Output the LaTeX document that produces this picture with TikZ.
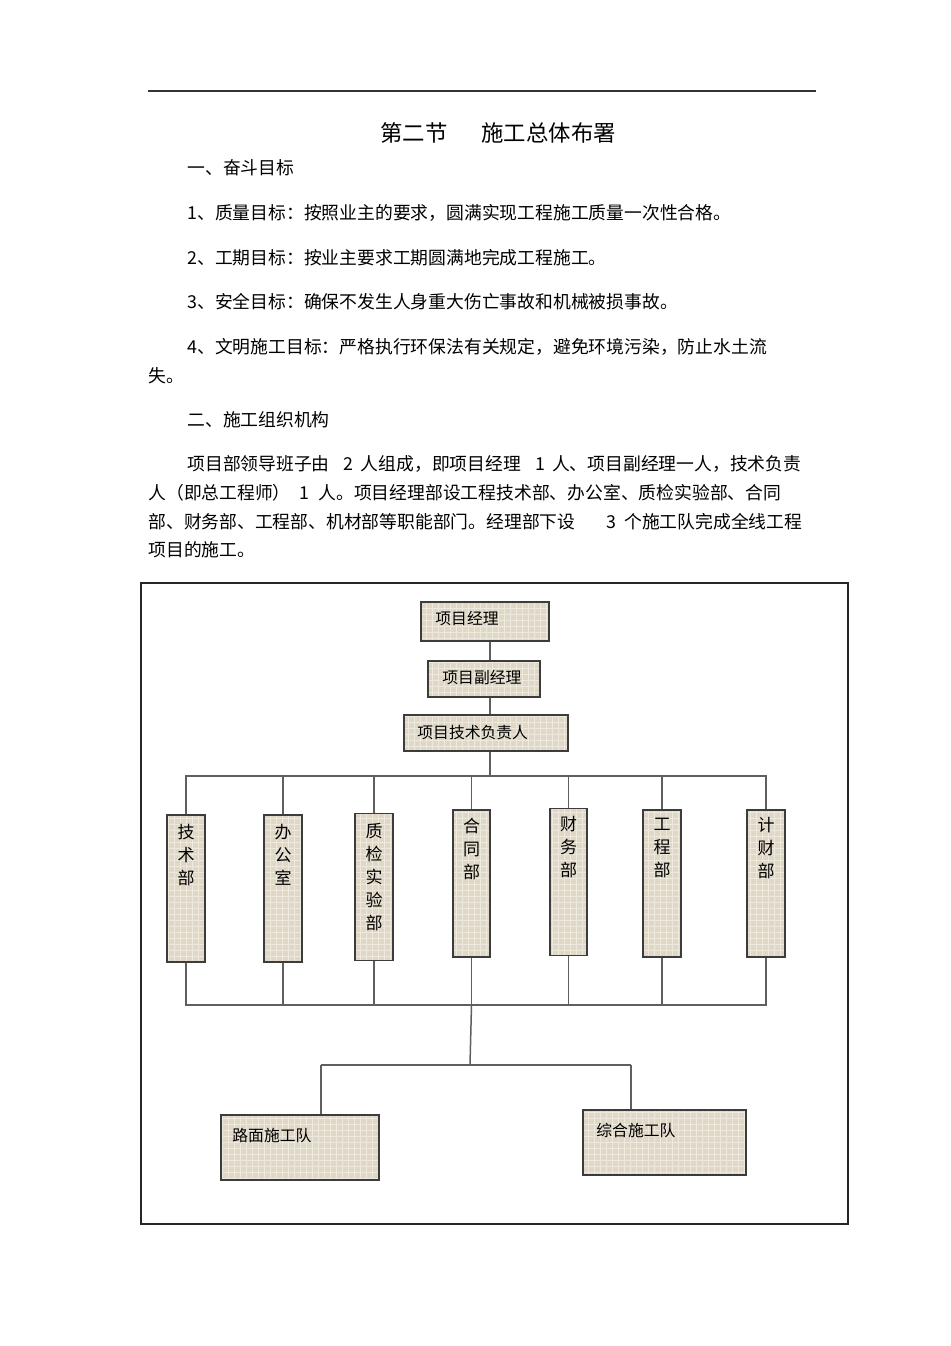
\documentclass[tikz,border=0pt]{standalone}
\usepackage{fontspec}
\setmainfont{Noto Sans CJK SC}
\usetikzlibrary{patterns}
\XeTeXlinebreaklocale "zh"
\XeTeXlinebreakskip=0pt plus 1pt
\definecolor{boxfill}{RGB}{224,215,197}
\definecolor{boxhatch}{RGB}{238,233,222}
\definecolor{boxline}{RGB}{60,60,60}
\definecolor{conn}{RGB}{95,95,95}
\tikzset{
  bodytxt/.style={anchor=base west, inner sep=0pt, font=\fontsize{8.9pt}{10pt}\selectfont},
  titletxt/.style={anchor=base west, inner sep=0pt, font=\fontsize{11.2pt}{12pt}\selectfont},
  orgbox/.style={draw=boxline, line width=0.7pt, preaction={fill=boxfill}, pattern=grid, pattern color=boxhatch, inner sep=0pt},
  deptbox/.style={orgbox, minimum width=19pt, minimum height=73.5pt},
  boxtxt/.style={anchor=west, inner sep=0pt, font=\fontsize{7.9pt}{9pt}\selectfont},
  depttxt/.style={anchor=north, inner sep=0pt, align=center, font=\fontsize{8.5pt}{11.5pt}\selectfont},
  link/.style={draw=conn, line width=0.75pt},
}
\begin{document}
\begin{tikzpicture}[x=0.5pt,y=-0.5pt]
\useasboundingbox[fill=white] (0,0) rectangle (950,1346);
% header rule
\draw[line width=0.6pt, black!80] (148,91) -- (816,91);
% title
\node[titletxt] (title) at (380,141) {第二节\hspace{17pt}施工总体布署};
% body text
\node[bodytxt] (h1) at (187,174) {一、奋斗目标};
\node[bodytxt] (g1) at (187,219) {1、质量目标：按照业主的要求，圆满实现工程施工质量一次性合格。};
\node[bodytxt] (g2) at (187,264) {2、工期目标：按业主要求工期圆满地完成工程施工。};
\node[bodytxt] (g3) at (187,308) {3、安全目标：确保不发生人身重大伤亡事故和机械被损事故。};
\node[bodytxt] (g4) at (187,353) {4、文明施工目标：严格执行环保法有关规定，避免环境污染，防止水土流};
\node[bodytxt] (g4b) at (148,382) {失。};
\node[bodytxt] (h2) at (187,426) {二、施工组织机构};
\node[bodytxt] (p1) at (187,470) {\makebox[307pt][s]{项目部领导班子由\ \ 2 人组成，即项目经理\ \ 1 人、项目副经理一人，技术负责}};
\node[bodytxt] (p2) at (148,499) {\makebox[316.5pt][s]{人（即总工程师）\ 1 人。项目经理部设工程技术部、办公室、质检实验部、合同}};
\node[bodytxt] (p3) at (148,528) {\makebox[327pt][s]{部、财务部、工程部、机材部等职能部门。经理部下设\ \ \ \ 3 个施工队完成全线工程}};
\node[bodytxt] (p4) at (148,556) {项目的施工。};
% frame
\draw[line width=0.6pt, black!85] (141,583) rectangle (848,1224);
% top chain
\node[orgbox, minimum width=64pt, minimum height=19.5pt] (m1) at (485,621.5) {};
\node[boxtxt] (m1t) at (435,618) {项目经理};
\node[orgbox, minimum width=56pt, minimum height=18pt] (m2) at (484,679) {};
\node[boxtxt] (m2t) at (442,677) {项目副经理};
\node[orgbox, minimum width=82pt, minimum height=18pt] (m3) at (486,733) {};
\node[boxtxt] (m3t) at (417,732) {项目技术负责人};
\coordinate (busT) at (490,776);
\coordinate (busB) at (490,1005);
\draw[link] (m1.south -| busT) -- (m2.north -| busT);
\draw[link] (m2.south -| busT) -- (m3.north -| busT);
\draw[link] (m3.south -| busT) -- (busT);
% departments
\node[deptbox] (d1) at (186,888.5) {};
\node[deptbox] (d2) at (283,888.5) {};
\node[deptbox] (d3) at (374,887) {};
\node[deptbox, minimum width=18.5pt] (d4) at (471.5,883.5) {};
\node[deptbox, minimum width=18.5pt] (d5) at (568.5,882) {};
\node[deptbox] (d6) at (662,883.5) {};
\node[deptbox] (d7) at (766,883.5) {};
\node[depttxt, below=4.8pt] (d1t) at (d1.north) {技\\术\\部};
\node[depttxt, below=4.8pt] (d2t) at (d2.north) {办\\公\\室};
\node[depttxt, below=4.8pt] (d3t) at (d3.north) {质\\检\\实\\验\\部};
\node[depttxt, below=4pt] (d4t) at (d4.north) {合\\同\\部};
\node[depttxt, below=4pt] (d5t) at (d5.north) {财\\务\\部};
\node[depttxt, below=4pt] (d6t) at (d6.north) {工\\程\\部};
\node[depttxt, below=4pt] (d7t) at (d7.north) {计\\财\\部};
% top bus
\draw[link] (d1.north) -- (d1.north |- busT) -- (d7.north |- busT) -- (d7.north);
\foreach \d in {d2,d3,d4,d5,d6} \draw[link] (\d.north) -- (\d.north |- busT);
% bottom bus
\draw[link] (d1.south) -- (d1.south |- busB) -- (d7.south |- busB) -- (d7.south);
\foreach \d in {d2,d3,d4,d5,d6} \draw[link] (\d.south) -- (\d.south |- busB);
% teams
\node[orgbox, minimum width=79pt, minimum height=32.5pt] (t1) at (300,1147.5) {};
\node[boxtxt] (t1t) at (232,1135) {路面施工队};
\node[orgbox, minimum width=81.5pt, minimum height=32.5pt] (t2) at (664.5,1142.5) {};
\node[boxtxt] (t2t) at (596,1130) {综合施工队};
\coordinate (split) at (470,1065);
\coordinate (tl) at (321,1065);
\coordinate (tr) at (631,1065);
\draw[link] (d4.south |- busB) -- (split);
\draw[link] (tl) -- (tr);
\draw[link] (tl) -- (tl |- t1.north);
\draw[link] (tr) -- (tr |- t2.north);
\end{tikzpicture}
\end{document}
